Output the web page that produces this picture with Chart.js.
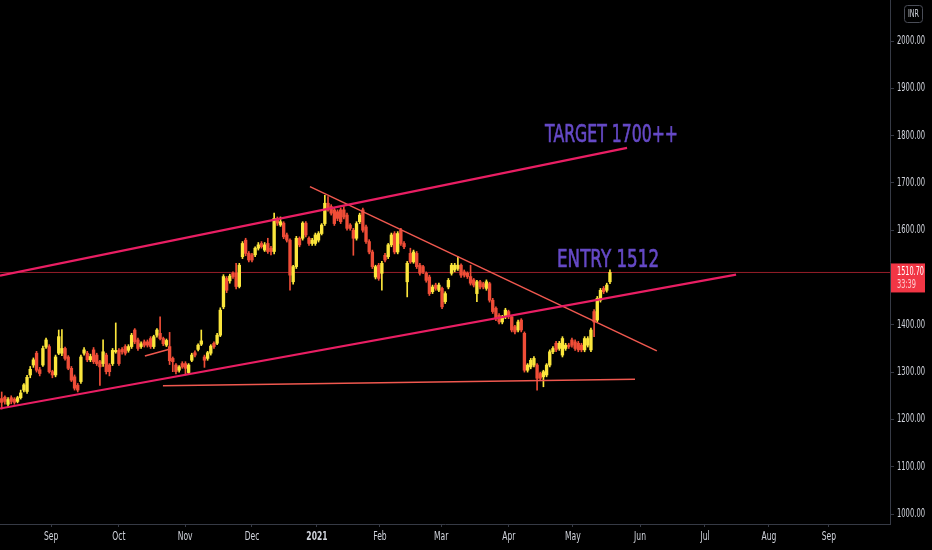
<!DOCTYPE html>
<html>
<head>
<meta charset="utf-8">
<script src="https://cdn.jsdelivr.net/npm/chart.js@4.4.1/dist/chart.umd.min.js"></script>
<style>
  html, body { margin: 0; padding: 0; background: #000; }
  #chart { display: block; }
</style>
</head>
<body>
<canvas id="chart" width="932" height="550"></canvas>
<script>
// daily candles, Aug 2020 -> end of May 2021 (index = trading day)
const opens = [
  1244,1247,1232,1246,1243,1238,1246,1262,1259,1294,
  1315,1340,1305,1315,1353,1354,1301,1294,1340,1340,
  1350,1332,1308,1290,1272,1280,1340,1340,1326,1347,
  1336,1322,1318,1336,1315,1318,1343,1346,1348,1354,
  1346,1354,1389,1368,1354,1364,1364,1371,1354,1378,
  1382,1371,1357,1354,1329,1315,1304,1318,1318,1299,
  1325,1341,1348,1359,1332,1329,1340,1361,1361,1378,
  1438,1498,1493,1509,1509,1481,1544,1579,1551,1548,
  1548,1562,1572,1558,1572,1562,1555,1625,1611,1615,
  1590,1579,1491,1523,1583,1583,1615,1583,1572,1572,
  1579,1593,1614,1657,1650,1643,1639,1643,1643,1632,
  1611,1600,1583,1618,1643,1607,1576,1554,1501,1526,
  1509,1547,1544,1569,1593,1554,1600,1572,1491,1551,
  1533,1551,1526,1523,1509,1501,1470,1484,1473,1477,
  1449,1480,1509,1516,1519,1526,1512,1509,1502,1495,
  1466,1491,1487,1477,1487,1452,1435,1420,1406,1417,
  1428,1417,1396,1389,1410,1382,1304,1311,1315,1315,
  1297,1290,1294,1315,1343,1361,1350,1336,1350,1357,
  1368,1364,1361,1357,1347,1357,1347,1428,1410,1452,
  1477,1473,1491
];
const highs = [
  1258,1250,1246,1250,1246,1249,1262,1276,1293,1312,
  1330,1344,1310,1355,1372,1358,1304,1336,1389,1390,
  1353,1335,1312,1294,1276,1336,1352,1344,1338,1352,
  1340,1325,1368,1340,1318,1350,1404,1350,1352,1358,
  1358,1382,1392,1372,1364,1368,1368,1375,1378,1392,
  1417,1374,1370,1384,1332,1318,1314,1322,1322,1318,
  1340,1345,1360,1389,1336,1344,1358,1364,1382,1436,
  1506,1502,1507,1512,1530,1530,1576,1583,1555,1551,
  1565,1574,1576,1574,1583,1566,1636,1628,1628,1618,
  1594,1582,1526,1587,1586,1618,1618,1586,1583,1594,
  1597,1614,1674,1671,1654,1647,1643,1647,1650,1636,
  1614,1604,1618,1636,1647,1611,1580,1558,1526,1530,
  1534,1551,1572,1594,1597,1597,1604,1576,1534,1562,
  1558,1555,1530,1526,1512,1505,1484,1488,1488,1480,
  1470,1498,1530,1530,1544,1529,1516,1512,1526,1498,
  1494,1494,1490,1495,1490,1456,1438,1424,1420,1435,
  1431,1420,1399,1410,1413,1385,1318,1329,1333,1318,
  1300,1304,1318,1347,1354,1365,1365,1375,1361,1361,
  1372,1368,1365,1361,1375,1375,1393,1432,1460,1477,
  1481,1488,1516
];
const lows = [
  1222,1232,1225,1233,1232,1235,1243,1258,1255,1288,
  1310,1300,1292,1312,1350,1298,1288,1290,1337,1335,
  1325,1305,1280,1262,1258,1276,1336,1322,1322,1318,
  1314,1272,1312,1296,1292,1314,1340,1314,1338,1336,
  1342,1350,1360,1346,1350,1353,1353,1350,1350,1374,
  1368,1356,1354,1316,1301,1296,1300,1308,1294,1296,
  1322,1332,1345,1356,1310,1325,1336,1350,1358,1375,
  1434,1468,1488,1498,1476,1478,1540,1546,1533,1533,
  1544,1558,1562,1555,1551,1548,1550,1610,1608,1582,
  1575,1473,1486,1519,1565,1579,1586,1568,1568,1568,
  1575,1590,1610,1640,1632,1610,1620,1614,1624,1600,
  1600,1547,1579,1614,1596,1572,1550,1519,1497,1494,
  1473,1533,1540,1565,1550,1550,1568,1561,1459,1530,
  1530,1519,1505,1508,1490,1462,1466,1473,1470,1434,
  1445,1476,1505,1512,1515,1500,1501,1498,1484,1480,
  1449,1476,1476,1473,1448,1424,1409,1402,1402,1413,
  1413,1385,1381,1385,1385,1300,1300,1307,1311,1262,
  1283,1269,1290,1311,1339,1343,1346,1332,1346,1350,
  1353,1346,1343,1343,1343,1353,1343,1375,1406,1448,
  1466,1469,1487
];
const closes = [
  1236,1238,1242,1238,1236,1246,1256,1273,1289,1306,
  1326,1304,1297,1350,1368,1301,1294,1332,1375,1350,
  1329,1308,1283,1266,1262,1332,1347,1326,1333,1322,
  1318,1311,1343,1301,1301,1346,1346,1318,1343,1340,
  1354,1378,1364,1350,1360,1357,1357,1354,1375,1389,
  1371,1360,1367,1324,1322,1301,1311,1311,1308,1315,
  1336,1336,1357,1366,1325,1341,1355,1354,1378,1431,
  1502,1473,1503,1502,1481,1526,1572,1551,1537,1537,
  1562,1569,1565,1569,1555,1555,1625,1615,1618,1586,
  1579,1505,1523,1583,1569,1615,1590,1572,1579,1590,
  1593,1611,1657,1643,1636,1614,1625,1618,1628,1604,
  1604,1583,1614,1632,1600,1576,1554,1523,1523,1498,
  1530,1537,1569,1590,1554,1593,1572,1565,1530,1533,
  1554,1523,1509,1512,1494,1466,1480,1477,1484,1438,
  1466,1494,1526,1526,1526,1505,1505,1502,1488,1484,
  1491,1480,1480,1491,1452,1428,1413,1406,1417,1431,
  1417,1389,1385,1406,1389,1304,1315,1325,1329,1287,
  1287,1301,1315,1343,1350,1347,1361,1371,1357,1354,
  1357,1350,1347,1347,1371,1371,1389,1406,1456,1473,
  1470,1484,1510.7
];

// time axis ticks (bar index) and labels
const monthTicks = [15.6, 37.0, 57.9, 79.0, 99.5, 119.4, 138.7, 160.1, 180.3, 201.5, 222.0, 242.2, 261.1];
const monthLabels = ['Sep', 'Oct', 'Nov', 'Dec', '2021', 'Feb', 'Mar', 'Apr', 'May', 'Jun', 'Jul', 'Aug', 'Sep'];
const priceTicks = [1000, 1100, 1200, 1300, 1400, 1500, 1600, 1700, 1800, 1900, 2000];

// drawn lines: [x0, x1] in bar index, [y0, y1] in price
const upperChannelX = [-0.54, 197.4], upperChannelY = [1504, 1774];
const lowerChannelX = [-0.54, 231.8], lowerChannelY = [1223, 1506];
const resistanceX = [97.3, 206.8], resistanceY = [1692, 1345];
const supportX = [50.9, 199.9], supportY = [1271, 1285];
const shortLineX = [45.2, 52.6], shortLineY = [1334, 1348];
const lastPrice = 1510.70;
const lastTimer = '33:39';

const UP = '#fbe63c';
const DOWN = '#ef4d37';
const FONT = '"DejaVu Sans", sans-serif';
const NARROW = 0.66; // the screenshot's labels are in a narrow face

const idx = closes.map((_, i) => i);
const candleColors = idx.map(i => closes[i] >= opens[i] ? UP : DOWN);
const wickData = idx.map(i => ({ x: i, y: [lows[i], highs[i]] }));
const bodyData = idx.map(i => ({ x: i, y: [opens[i], closes[i]] }));

const seg = (xs, ys) => xs.map((v, i) => ({ x: v, y: ys[i] }));
const lineSet = (data, color, width, order) => ({
  type: 'line', data, borderColor: color, borderWidth: width,
  pointRadius: 0, fill: false, tension: 0, order
});

const X_MIN = -0.54, X_MAX = 280.4;

// squeeze text horizontally: to a fixed width, or by the NARROW factor
function narrowText(c, text, x, y, font, width, stroke) {
  c.font = font;
  const k = width ? width / c.measureText(text).width : NARROW;
  c.save();
  c.translate(x, y);
  c.scale(k, 1);
  if (stroke) { c.lineWidth = stroke; c.strokeStyle = c.fillStyle; c.strokeText(text, 0, 0); }
  c.fillText(text, 0, 0);
  c.restore();
}

const overlay = {
  id: 'overlay',
  beforeDraw(chart) {
    const c = chart.ctx;
    c.save();
    c.fillStyle = '#000';
    c.fillRect(0, 0, chart.width, chart.height);
    c.restore();
  },
  afterDraw(chart) {
    const c = chart.ctx;
    const x = chart.scales.x, y = chart.scales.y;

    // price labels on the right
    c.save();
    c.fillStyle = '#d1d4dc';
    c.textBaseline = 'middle';
    priceTicks.forEach(v => {
      narrowText(c, v.toFixed(2), 897, y.getPixelForValue(v), '11.5px ' + FONT, 28);
    });
    c.restore();

    // month labels
    c.save();
    c.fillStyle = '#d1d4dc';
    c.textAlign = 'center';
    c.textBaseline = 'middle';
    monthTicks.forEach((v, i) => {
      const bold = monthLabels[i] === '2021';
      narrowText(c, monthLabels[i], x.getPixelForValue(v), 537,
        (bold ? 'bold ' : '') + '11.5px ' + FONT, null);
    });
    c.restore();

    // text notes
    const notes = [
      { text: 'TARGET 1700++', at: 171.5, price: 1786.5, w: 133 },
      { text: 'ENTRY 1512', at: 175.3, price: 1522.2, w: 102 }
    ];
    c.save();
    c.fillStyle = '#6549c6';
    c.textBaseline = 'alphabetic';
    notes.forEach(n => {
      narrowText(c, n.text, x.getPixelForValue(n.at), y.getPixelForValue(n.price), '25px ' + FONT, n.w, 0.7);
    });
    c.restore();

    // last price tag
    const ly = y.getPixelForValue(lastPrice);
    c.save();
    c.fillStyle = '#f23645';
    c.fillRect(891, ly - 9, 34, 29);
    c.fillStyle = '#fff';
    c.textBaseline = 'middle';
    narrowText(c, lastPrice.toFixed(2), 897, ly, '11.5px ' + FONT, 27);
    c.fillStyle = 'rgba(255,255,255,0.75)';
    narrowText(c, lastTimer, 897, ly + 13, '11.5px ' + FONT, 19);
    c.restore();

    // currency badge
    c.save();
    c.strokeStyle = '#4a4d57';
    c.lineWidth = 1;
    c.beginPath();
    c.roundRect(904.5, 5.5, 18, 17, 3);
    c.stroke();
    c.fillStyle = '#d1d4dc';
    c.textBaseline = 'middle';
    narrowText(c, 'INR', 908, 14.5, '10px ' + FONT, 11);
    c.restore();
  }
};

new Chart(document.getElementById('chart'), {
  type: 'bar',
  data: {
    datasets: [
      lineSet(seg(upperChannelX, upperChannelY), '#e91e63', 2.2, 0),
      lineSet(seg(lowerChannelX, lowerChannelY), '#e91e63', 2.2, 0),
      lineSet(seg(resistanceX, resistanceY), '#f0584f', 1.5, 0),
      lineSet(seg(supportX, supportY), '#f0584f', 1.5, 0),
      lineSet(seg(shortLineX, shortLineY), '#f0584f', 1.5, 0),
      {
        type: 'bar', data: bodyData, backgroundColor: candleColors,
        barThickness: 2.7, minBarLength: 1, grouped: false, order: 1
      },
      {
        type: 'bar', data: wickData, backgroundColor: candleColors,
        barThickness: 1, grouped: false, order: 2
      },
      lineSet(seg([X_MIN, X_MAX], [lastPrice, lastPrice]), 'rgba(200,40,55,0.75)', 1, 3)
    ]
  },
  options: {
    responsive: false,
    animation: false,
    layout: { padding: 0 },
    plugins: {
      legend: { display: false },
      tooltip: { enabled: false }
    },
    scales: {
      x: {
        type: 'linear',
        min: X_MIN,
        max: X_MAX,
        offset: false,
        afterBuildTicks: s => { s.ticks = monthTicks.map(v => ({ value: v })); },
        afterFit: s => { s.height = 26; },
        grid: { display: true, drawOnChartArea: false, offset: false, tickLength: 3, color: '#363a45' },
        border: { display: true, color: '#363a45' },
        ticks: { display: false }
      },
      y: {
        position: 'right',
        min: 978.9,
        max: 2086.7,
        afterBuildTicks: s => { s.ticks = priceTicks.map(v => ({ value: v })); },
        afterFit: s => { s.width = 42; },
        grid: { display: true, drawOnChartArea: false, tickLength: 4, color: '#363a45' },
        border: { display: true, color: '#363a45' },
        ticks: { display: false }
      }
    }
  },
  plugins: [overlay]
});
</script>
</body>
</html>
